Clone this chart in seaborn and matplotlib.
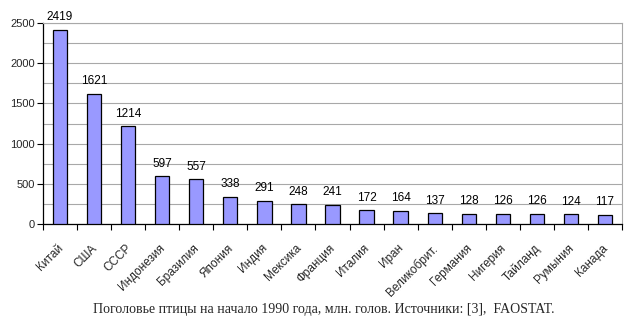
import matplotlib
matplotlib.use("Agg")
import matplotlib.pyplot as plt
import matplotlib.transforms as mtransforms
import seaborn as sns
import pandas as pd
from matplotlib.ticker import MultipleLocator, FixedLocator

countries = ["Китай", "США", "СССР", "Индонезия", "Бразилия", "Япония", "Индия",
             "Мексика", "Франция", "Италия", "Иран", "Великобрит.", "Германия",
             "Нигерия", "Тайланд", "Румыния", "Канада"]
heads = [2419, 1621, 1214, 597, 557, 338, 291, 248, 241, 172, 164, 137, 128, 126, 126, 124, 117]
caption = "Поголовье птицы на начало 1990 года, млн. голов. Источники: [3],  FAOSTAT."

df = pd.DataFrame({"country": countries, "heads": heads})

sns.set_style("white")
plt.rcParams["font.family"] = ["Liberation Sans", "DejaVu Sans"]

fig = plt.figure(figsize=(6.35, 3.22), dpi=100)
ax = fig.add_axes([43 / 635, 1 - 224 / 322, (622 - 43) / 635, (224 - 23) / 322])

sns.barplot(data=df, x="country", y="heads", color="#9999FF", saturation=1,
            width=0.42, edgecolor="black", linewidth=0.9, ax=ax, zorder=3)

ax.set_xlim(-0.5, len(countries) - 0.5)
ax.set_ylim(0, 2500)
ax.yaxis.set_major_locator(MultipleLocator(500))
ax.yaxis.set_minor_locator(MultipleLocator(250))
ax.grid(which="both", axis="y", color="#a8a8a8", linewidth=0.8, zorder=0)
ax.set_axisbelow(True)

for s in ["top", "right"]:
    ax.spines[s].set_color("#a8a8a8")
    ax.spines[s].set_linewidth(0.8)
for s in ["left", "bottom"]:
    ax.spines[s].set_color("black")
    ax.spines[s].set_linewidth(0.9)

ax.set_xlabel("")
ax.set_ylabel("")
ax.tick_params(axis="y", which="major", direction="out", length=4, width=0.8,
               color="black", labelsize=8, left=True, pad=2)
ax.tick_params(axis="y", which="minor", left=False)
ax.set_xticks(range(len(countries)))
ax.set_xticklabels(countries, rotation=45, ha="right", rotation_mode="anchor", fontsize=8.5)
ax.tick_params(axis="x", which="major", length=0, pad=13)
shift = mtransforms.ScaledTranslation(-3 / 100, 0, fig.dpi_scale_trans)
for lbl in ax.get_xticklabels():
    lbl.set_transform(lbl.get_transform() + shift)
ax.xaxis.set_minor_locator(FixedLocator([i - 0.5 for i in range(len(countries) + 1)]))
ax.tick_params(axis="x", which="minor", direction="out", length=4, width=0.8,
               color="black", bottom=True)

for i, v in enumerate(heads):
    ax.text(i, v + 80, str(v), ha="center", va="bottom", fontsize=8.5, color="black")

fig.text(0.51, 1 - 309 / 322, caption, ha="center", va="center",
         fontsize=10, family=["Liberation Serif", "DejaVu Serif"])

fig.savefig("out.png", dpi=100)
